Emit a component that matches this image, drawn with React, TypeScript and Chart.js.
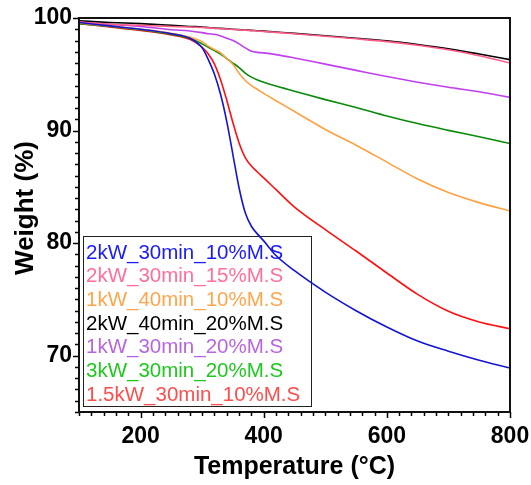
import React, { useEffect, useRef } from "react";
import { Chart, registerables } from "chart.js";

Chart.register(...registerables);

const temperatures = [100, 150, 200, 250, 280, 300, 310, 320, 330, 340, 350, 360, 370, 380, 390, 400, 420, 450, 500, 550, 600, 650, 700, 750, 800];

const s2kW30min10 = [99.6, 99.3, 99.0, 98.6, 98.2, 97.35, 96.3, 95.0, 93.2, 90.8, 87.85, 84.9, 82.7, 81.5, 80.8, 80.2, 78.9, 77.55, 75.65, 74.0, 72.55, 71.3, 70.4, 69.6, 68.9];
const s2kW30min15 = [99.65, 99.45, 99.35, 99.25, 99.2, 99.15, 99.12, 99.08, 99.05, 99.02, 98.98, 98.95, 98.92, 98.88, 98.85, 98.8, 98.72, 98.6, 98.38, 98.15, 97.9, 97.58, 97.18, 96.65, 96.0];
const s1kW40min10 = [99.55, 99.3, 99.0, 98.65, 98.3, 97.9, 97.5, 97.2, 96.9, 96.4, 95.9, 95.1, 94.45, 94.0, 93.65, 93.3, 92.65, 91.7, 90.1, 88.7, 87.2, 85.7, 84.5, 83.6, 82.85];
const s2kW40min20 = [99.75, 99.6, 99.5, 99.35, 99.25, 99.2, 99.15, 99.1, 99.08, 99.05, 99.0, 98.97, 98.94, 98.9, 98.87, 98.83, 98.75, 98.63, 98.42, 98.2, 97.97, 97.65, 97.27, 96.8, 96.3];
const s1kW30min20 = [99.6, 99.45, 99.25, 98.95, 98.85, 98.7, 98.6, 98.55, 98.4, 98.2, 98.0, 97.7, 97.35, 97.05, 96.95, 96.9, 96.75, 96.45, 95.9, 95.35, 94.8, 94.3, 93.85, 93.45, 92.95];
const s3kW30min20 = [99.5, 99.25, 98.95, 98.55, 98.2, 97.7, 97.4, 97.1, 96.8, 96.4, 96.0, 95.6, 95.1, 94.75, 94.5, 94.3, 93.95, 93.5, 92.75, 92.05, 91.3, 90.62, 90.02, 89.45, 88.85];
const s15kW30min10 = [99.5, 99.2, 98.9, 98.5, 98.1, 97.4, 96.8, 95.9, 94.5, 92.7, 90.7, 88.9, 87.6, 86.85, 86.3, 85.8, 84.75, 83.2, 81.2, 79.3, 77.35, 75.45, 73.95, 73.0, 72.4];

const seriesLabels = [
  "2kW_30min_10%M.S",
  "2kW_30min_15%M.S",
  "1kW_40min_10%M.S",
  "2kW_40min_20%M.S",
  "1kW_30min_20%M.S",
  "3kW_30min_20%M.S",
  "1.5kW_30min_10%M.S",
];
const seriesValues = [s2kW30min10, s2kW30min15, s1kW40min10, s2kW40min20, s1kW30min20, s3kW30min20, s15kW30min10];
const lineColors = ["#1414d2", "#ff5c8a", "#ffa040", "#000000", "#c040ee", "#0a8a0a", "#ff1010"];
const legendColors = ["#1a1aff", "#ff6f9a", "#ffa64d", "#000000", "#b866e0", "#1ec81e", "#ff4d4d"];

const xTickValues = [200, 400, 600, 800];
const yTickValues = [70, 80, 90, 100];
const xMin = 100, xMax = 800, yMin = 65, yMax = 100;
const yTitle = "Weight (%)";
const xTitle = "Temperature (°C)";

const FONT = "'Liberation Sans', Arial, Helvetica, sans-serif";

const decorPlugin = {
  id: "decor",
  beforeDatasetsDraw(chart: any) {
    const ctx = chart.ctx;
    const a = chart.chartArea;
    const boxL = a.left + 4, boxT = a.top + 218, boxR = a.left + 232, boxB = a.bottom - 6;
    ctx.save();
    ctx.strokeStyle = "#222";
    ctx.lineWidth = 1;
    ctx.strokeRect(boxL + 0.5, boxT + 0.5, boxR - boxL, boxB - boxT);
    ctx.font = `20.5px ${FONT}`;
    ctx.textBaseline = "alphabetic";
    ctx.textAlign = "left";
    seriesLabels.forEach((lab, i) => {
      ctx.fillStyle = legendColors[i];
      ctx.fillText(lab, boxL + 3, boxT + 22.5 + i * 23.7);
    });
    ctx.restore();
  },
  afterDatasetsDraw(chart: any) {
    const ctx = chart.ctx;
    const a = chart.chartArea;
    const xs = chart.scales.x;
    const ys = chart.scales.y;
    ctx.save();
    ctx.strokeStyle = "#000";
    ctx.lineWidth = 1.5;
    ctx.beginPath();
    for (let v = xMin; v <= xMax; v += 20) {
      const px = Math.round(xs.getPixelForValue(v)) + 0.5;
      const len = v % 200 === 0 ? 6 : 4;
      ctx.moveTo(px, a.bottom);
      ctx.lineTo(px, a.bottom + len);
    }
    for (let v = yMin; v <= yMax; v += 1) {
      const py = Math.round(ys.getPixelForValue(v)) + 0.5;
      const len = v % 10 === 0 ? 6 : 4;
      ctx.moveTo(a.left, py);
      ctx.lineTo(a.left - len, py);
    }
    ctx.stroke();
    ctx.lineWidth = 2;
    ctx.strokeStyle = "#111";
    ctx.strokeRect(a.left, a.top, a.right - a.left, a.bottom - a.top);

    ctx.translate(26, a.top + 190);
    ctx.rotate(-Math.PI / 2);
    ctx.font = `bold 26px ${FONT}`;
    ctx.fillStyle = "#000";
    ctx.textAlign = "center";
    ctx.textBaseline = "middle";
    ctx.fillText(yTitle, 0, 0);
    ctx.restore();
  },
};

export default function App() {
  const ref = useRef<HTMLCanvasElement>(null);
  useEffect(() => {
    const canvas = ref.current;
    if (!canvas) return;
    const chart = new Chart(canvas, {
      type: "line",
      data: {
        datasets: seriesLabels.map((label, i) => ({
          label,
          data: temperatures.map((t, j) => ({ x: t, y: seriesValues[i][j] })),
          borderColor: lineColors[i],
          backgroundColor: lineColors[i],
          borderWidth: 1.6,
          pointRadius: 0,
          cubicInterpolationMode: "monotone" as const,
          fill: false,
        })),
      },
      options: {
        animation: false,
        responsive: false,
        devicePixelRatio: 1,
        layout: { padding: { left: 0, right: 21, top: 18, bottom: 0 } },
        plugins: { legend: { display: false }, tooltip: { enabled: false } },
        scales: {
          x: {
            type: "linear",
            min: xMin,
            max: xMax,
            afterBuildTicks: (s: any) => { s.ticks = xTickValues.map((v) => ({ value: v })); },
            afterFit: (s: any) => { s.height = 73; s.paddingLeft = 0; s.paddingRight = 0; },
            grid: { display: false, drawTicks: false },
            border: { display: false },
            ticks: {
              autoSkip: false,
              maxRotation: 0,
              padding: 11,
              color: "#000",
              font: { family: FONT, size: 23, weight: "bold" },
            },
            title: {
              display: true,
              text: xTitle,
              color: "#000",
              font: { family: FONT, size: 25, weight: "bold" },
              padding: { top: 0, bottom: 3 },
            },
          },
          y: {
            type: "linear",
            min: yMin,
            max: yMax,
            afterBuildTicks: (s: any) => { s.ticks = yTickValues.map((v) => ({ value: v })); },
            afterFit: (s: any) => { s.width = 79; s.paddingTop = 0; s.paddingBottom = 0; },
            grid: { display: false, drawTicks: false },
            border: { display: false },
            ticks: {
              autoSkip: false,
              padding: 7,
              color: "#000",
              font: { family: FONT, size: 23, weight: "bold" },
            },
            title: { display: false },
          },
        },
      },
      plugins: [decorPlugin],
    } as any);
    return () => chart.destroy();
  }, []);
  return (
    <div style={{ position: "fixed", left: 0, top: 0, width: 531, height: 485, background: "#fff" }}>
      <canvas ref={ref} width={531} height={485} style={{ display: "block" }} />
    </div>
  );
}
